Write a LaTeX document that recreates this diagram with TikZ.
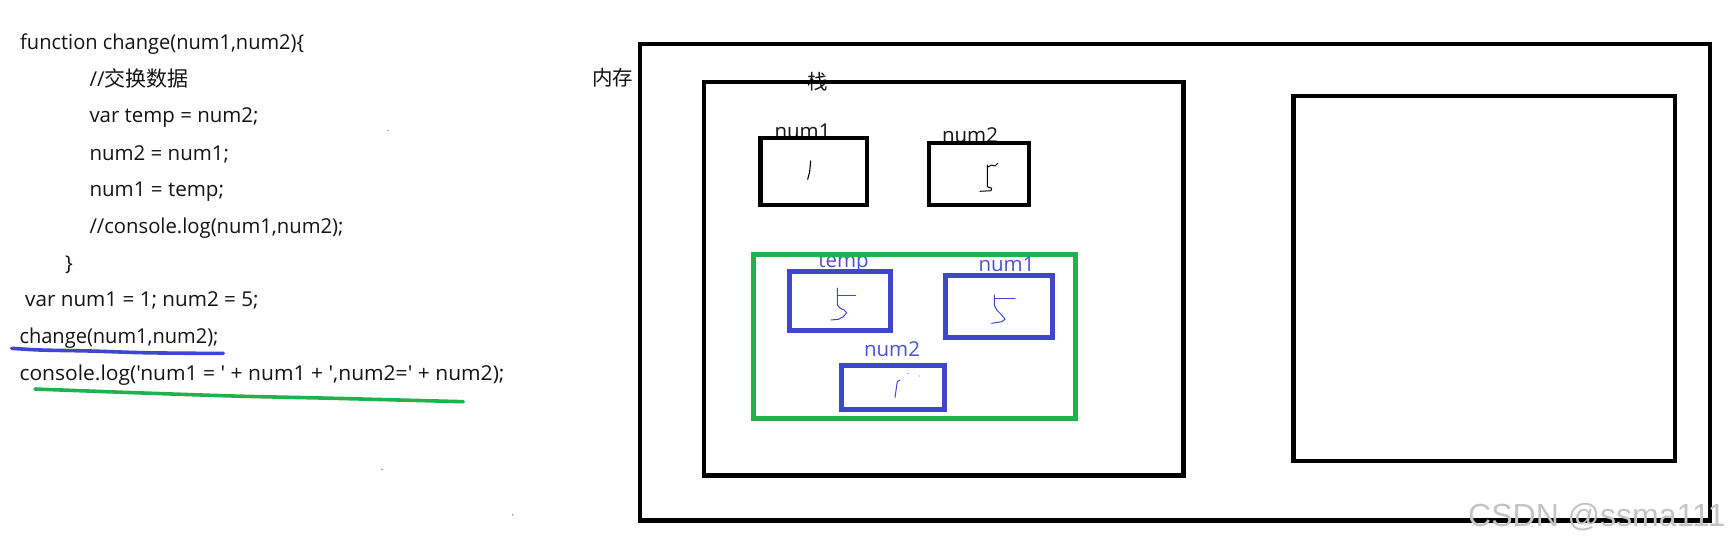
\documentclass[tikz,border=0pt]{standalone}
\usepackage{fontspec}
\usepackage{graphicx}
\newfontfamily\codefont{Open Sans}
\newfontfamily\cjk{Noto Sans CJK SC}
\newfontfamily\wmfont{Liberation Sans}
\definecolor{pblue}{HTML}{3F48CC}
\definecolor{pgreen}{HTML}{22B14C}
\definecolor{lblue}{HTML}{4A54D0}
\definecolor{codec}{HTML}{141414}
\definecolor{wmgray}{HTML}{C4C4C4}
\newcommand\fitw[2]{\resizebox{#1pt}{\height}{#2}}
\tikzset{
  codeline/.style={anchor=base west, inner sep=0pt, text=codec, font=\codefont\fontsize{20.5}{24}\selectfont},
  lbl/.style={anchor=base, inner sep=0pt, font=\codefont\fontsize{20.5}{24}\selectfont},
  blackbox/.style={draw=black, line width=4.3pt, inner sep=0pt},
  bluebox/.style={draw=pblue, line width=5pt, inner sep=0pt},
  greenbox/.style={draw=pgreen, line width=5pt, inner sep=0pt},
  ink/.style={line width=1pt, line cap=round, line join=round},
  marker/.style={line width=3.6pt, line cap=round, line join=round}
}
\begin{document}
\begin{tikzpicture}[x=1pt,y=-1pt]
\useasboundingbox[fill=white] (0,0) rectangle (1736,546);

% ---- code on the left ----
\node[codeline] (l1) at (20,49.3) {\fitw{284}{function change(num1,num2)\{}};
\node[codeline] (l2) at (89.3,86.7) {//{\cjk\fontsize{21}{24}\selectfont 交换数据}};
\node[codeline] (l3) at (89.3,122.7) {\fitw{169}{var temp = num2;}};
\node[codeline] (l4) at (89.3,160) {\fitw{139.5}{num2 = num1;}};
\node[codeline] (l5) at (89.3,196.7) {\fitw{134.5}{num1 = temp;}};
\node[codeline] (l6) at (89.3,233.3) {\fitw{254}{//console.log(num1,num2);}};
\node[codeline] (l7) at (65,270) {\}};
\node[codeline] (l8) at (25,306.7) {\fitw{233.5}{var num1 = 1; num2 = 5;}};
\node[codeline] (l9) at (19.3,343.3) {\fitw{199}{change(num1,num2);}};
\node[codeline] (l10) at (19.3,380) {\fitw{485}{console.log('num1 = ' + num1 + ',num2=' + num2);}};

% underlines
\draw[marker, pblue] plot[smooth] coordinates {(11.7,348.3) (40,350) (90,351) (143.3,352.7) (196.7,353.3) (223.3,353.3)};
\draw[marker, pgreen] plot[smooth] coordinates {(35,389) (123.3,392.3) (233.3,396) (333.3,398.3) (463.3,401.7)};

% stray specks
\fill[pblue] (388,130.5) circle (0.7);
\fill[pblue] (382,469.4) circle (0.7);
\fill[black!70] (512.6,514.8) circle (0.6);

% ---- memory ----
\node[anchor=center, inner sep=0pt, text=codec, font=\cjk\fontsize{20.5}{24}\selectfont] (mem) at (612.5,78) {内存};
\node[anchor=center, inner sep=0pt, text=codec, font=\cjk\fontsize{20.5}{24}\selectfont] (stk) at (817.5,82) {栈};

\node[lbl, text=codec] (lnum1) at (802.5,138) {num1};
\node[lbl, text=codec] (lnum2) at (970,142.7) {num2};
\node[lbl, text=lblue] (ltemp) at (843.5,267.5) {temp};
\node[lbl, text=lblue] (lbnum1) at (1006.5,271.5) {num1};
\node[lbl, text=lblue] (lbnum2) at (892,356.7) {num2};

\node[blackbox, minimum width=1070pt, minimum height=476.5pt] (outer) at (1175,282.25) {};
\node[blackbox, minimum width=479.5pt, minimum height=393.5pt] (stack) at (943.75,278.75) {};
\node[blackbox, line width=4.6pt, minimum width=381.5pt, minimum height=365pt] (heap) at (1484.25,278.5) {};
\node[blackbox, minimum width=106.5pt, minimum height=67pt] (n1) at (813.75,171.5) {};
\node[blackbox, minimum width=100pt, minimum height=62pt] (n2) at (979,174) {};
\node[greenbox, minimum width=322pt, minimum height=164pt] (scope) at (914.5,336.5) {};
\node[bluebox, minimum width=101pt, minimum height=59pt] (bt) at (840,301) {};
\node[bluebox, minimum width=107pt, minimum height=61.5pt] (bn1) at (999,306.25) {};
\node[bluebox, minimum width=103pt, minimum height=44pt] (bn2) at (893,387.5) {};

% handwritten values
\draw[ink, line width=1.1pt] (810.7,161) -- (809.6,172) -- (807.7,179.3);
\draw[ink] (997.7,163.3) -- (995,166) -- (991.7,165) -- (987.3,167.3);
\draw[ink] (987.3,165) -- (987.3,186.7) -- (991.7,188.3) -- (991,190.7) -- (980,191.3);
\draw[ink, pblue] (855.7,295) -- (837.3,295);
\draw[ink, pblue] (837.3,288) -- (837.3,305) -- (840,308) -- (844,310) -- (846.7,312.7) -- (843.3,316.7) -- (838.3,319.3) -- (831,320);
\draw[ink, pblue] (1015,298.3) -- (994.3,298.3);
\draw[ink, pblue] (994.3,295) -- (994.3,305) -- (996.7,310) -- (1001.7,315) -- (1005,319.3) -- (1001.7,321.7) -- (991.7,323.3);
\draw[ink, pblue] (895,397.3) -- (897.3,381.7) -- (900,380);
\fill[pblue] (908,373.6) circle (0.6);
\fill[pblue] (919.3,376) circle (0.5);

% watermark
\node[anchor=base west, inner sep=0pt, text=wmgray, font=\wmfont\fontsize{32}{36}\selectfont] (wm) at (1468,526) {CSDN @ssma111};
\end{tikzpicture}
\end{document}
